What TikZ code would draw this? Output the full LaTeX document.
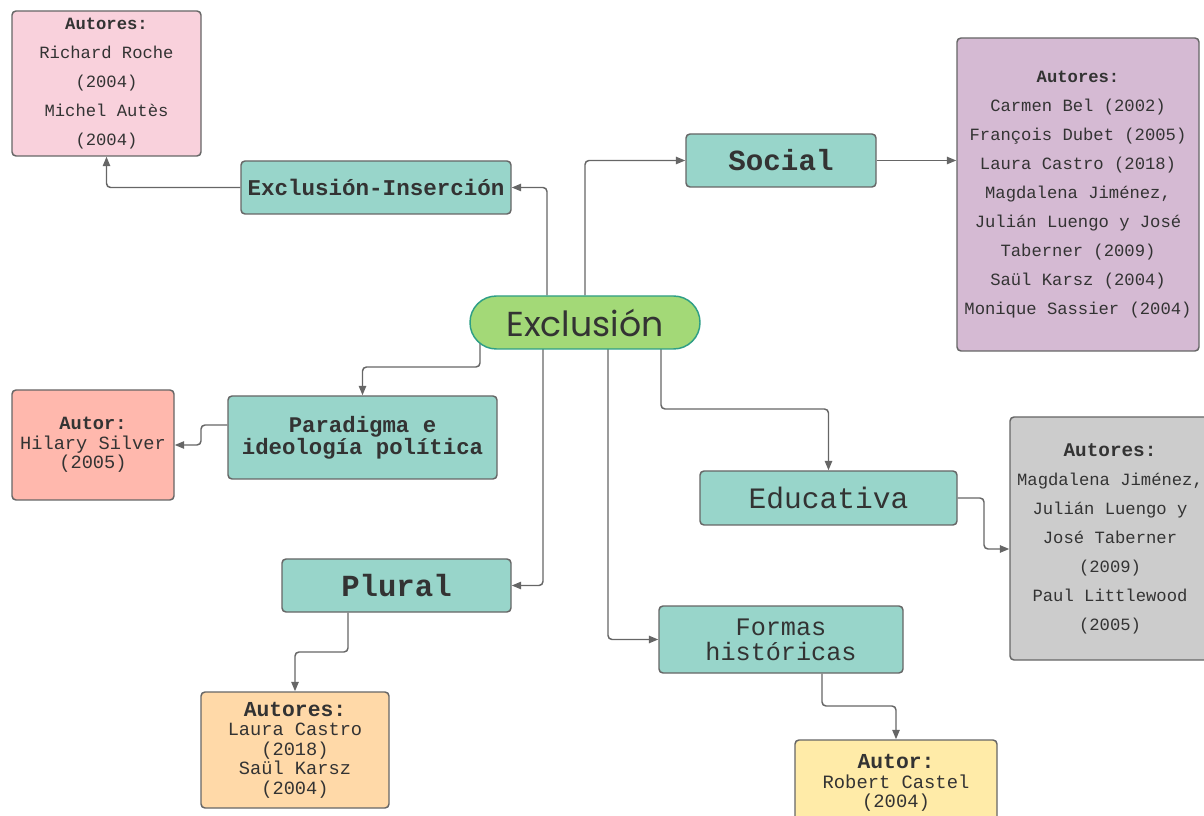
\documentclass[tikz,border=0pt]{standalone}
\usepackage{fontspec}
\setmonofont{Liberation Mono}
\newfontfamily\roundfont{Poppins}
\usetikzlibrary{arrows.meta, backgrounds}

\definecolor{tealbox}{HTML}{98D5CA}
\definecolor{pinkbox}{HTML}{F9D1DC}
\definecolor{lilabox}{HTML}{D5BAD3}
\definecolor{salmonbox}{HTML}{FFB8AD}
\definecolor{graybox}{HTML}{CCCCCC}
\definecolor{orangebox}{HTML}{FFD9A8}
\definecolor{yellowbox}{HTML}{FFEBA8}
\definecolor{greenbox}{HTML}{A3D977}
\definecolor{greenline}{HTML}{2E9E86}
\definecolor{linegray}{HTML}{666666}
\definecolor{textdark}{HTML}{333333}

\begin{document}
\begin{tikzpicture}[x=0.75pt,y=-0.75pt,
  box/.style={draw=linegray,line width=1.1pt,rounded corners=3pt,align=center,text=textdark,inner sep=0pt},
  conn/.style={draw=linegray,line width=1.1pt,rounded corners=3pt,-{Triangle[length=7pt,width=5.5pt]}}]
\useasboundingbox (0,0) rectangle (1204,816);

% centro
\node[box,draw=greenline,fill=greenbox,rounded corners=19.8pt,minimum width=172.5pt,minimum height=39.75pt,font=\roundfont\fontsize{26}{30}\selectfont] (excl) at (585,322.5) {Exclusión};

% ramas
\node[box,fill=tealbox,minimum width=202.5pt,minimum height=39.75pt,font=\ttfamily\bfseries\fontsize{16.9}{20}\selectfont] (inser) at (376,187.5) {Exclusión-Inserción};
\node[box,fill=tealbox,minimum width=142.5pt,minimum height=39.75pt,font=\ttfamily\bfseries\fontsize{21.9}{26}\selectfont] (social) at (781,160.5) {Social};
\node[box,fill=tealbox,minimum width=201.75pt,minimum height=62.25pt,font=\ttfamily\bfseries\fontsize{16.75}{16.5}\selectfont] (parad) at (362.5,437.5) {Paradigma e\\ideología política};
\node[box,fill=tealbox,minimum width=192.75pt,minimum height=40.5pt,font=\ttfamily\fontsize{22.2}{26}\selectfont] (educ) at (828.5,498) {Educativa};
\node[box,fill=tealbox,minimum width=171.75pt,minimum height=39.75pt,font=\ttfamily\bfseries\fontsize{23}{27}\selectfont] (plural) at (396.5,585.5) {Plural};
\node[box,fill=tealbox,minimum width=183pt,minimum height=50.25pt,font=\ttfamily\fontsize{18.9}{18.75}\selectfont] (formas) at (781,639.5) {Formas\\históricas};

% autores
\node[box,fill=pinkbox,minimum width=141.75pt,minimum height=108.75pt,font=\ttfamily\fontsize{12.9}{21.75}\selectfont] (pinkaut) at (106.5,83.5) {\textbf{Autores:}\\Richard Roche\\(2004)\\Michel Autès\\(2004)};
\node[box,fill=lilabox,minimum width=181.5pt,minimum height=234.75pt,font=\ttfamily\fontsize{12.9}{21.75}\selectfont] (socaut) at (1078,194.5) {\textbf{Autores:}\\Carmen Bel (2002)\\François Dubet (2005)\\Laura Castro (2018)\\Magdalena Jiménez,\\Julián Luengo y José\\Taberner (2009)\\Saül Karsz (2004)\\Monique Sassier (2004)};
\node[box,fill=salmonbox,minimum width=121.5pt,minimum height=82.5pt,font=\ttfamily\fontsize{14}{14.6}\selectfont] (silver) at (93,445) {\textbf{Autor:}\\Hilary Silver\\(2005)};
\node[box,fill=graybox,minimum width=150pt,minimum height=182.25pt,font=\ttfamily\fontsize{12.9}{21.75}\selectfont] (eduaut) at (1110,538.5) {\textbf{\fontsize{14.5}{21.75}\selectfont Autores:}\\Magdalena Jiménez,\\Julián Luengo y\\José Taberner\\(2009)\\Paul Littlewood\\(2005)};
\node[box,fill=orangebox,minimum width=141pt,minimum height=87pt,font=\ttfamily\fontsize{14}{14.6}\selectfont] (pluaut) at (295,750) {\textbf{\fontsize{16}{14.6}\selectfont Autores:}\\Laura Castro\\(2018)\\Saül Karsz\\(2004)};
\node[box,fill=yellowbox,minimum width=151.5pt,minimum height=64.5pt,font=\ttfamily\fontsize{14.1}{14.6}\selectfont] (castel) at (896,783) {\textbf{\fontsize{16}{14.6}\selectfont Autor:}\\Robert Castel\\(2004)};

% conectores
\begin{scope}[on background layer]
\draw[conn] (547,0 |- excl.north) |- (inser.east);
\draw[conn] (inser.west) -| (pinkaut.south);
\draw[conn] (585,0 |- excl.north) |- (social.west);
\draw[conn] (social.east) -- (socaut.west |- social.east);
\draw[conn] (480,0 |- excl.center) -- (480,367) -| (parad.north);
\draw[conn] (parad.west |- 0,425) -- (201,425) |- (silver.east);
\draw[conn] (543,0 |- excl.center) |- (plural.east);
\draw[conn] (348,0 |- plural.south) -- (348,652) -| (pluaut.north);
\draw[conn] (608,0 |- excl.center) |- (formas.west);
\draw[conn] (822,0 |- formas.south) -- (822,706) -| (castel.north);
\draw[conn] (661,0 |- excl.center) -- (661,409) -| (educ.north);
\draw[conn] (educ.east) -- (984,0 |- educ.east) |- (eduaut.west |- 0,549);
\end{scope}
\end{tikzpicture}
\end{document}
